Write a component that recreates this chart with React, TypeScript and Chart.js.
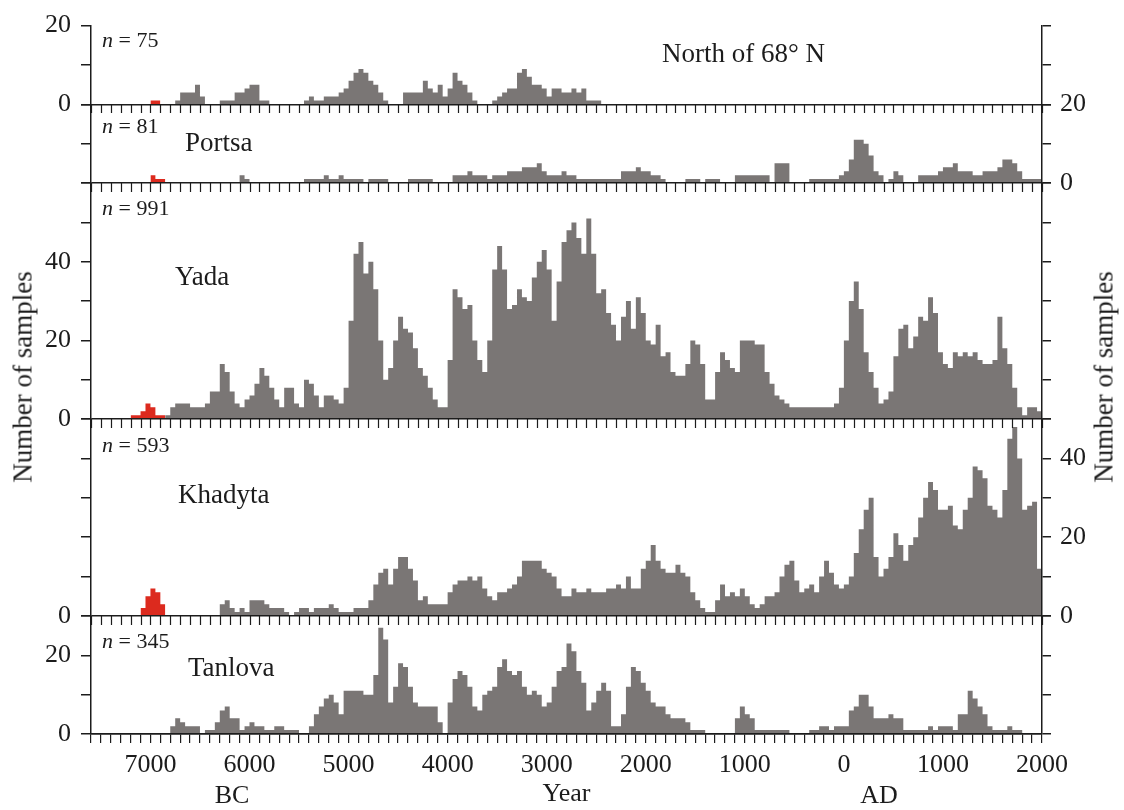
import React, { useEffect, useRef } from "react";
import { Chart, registerables } from "chart.js";

Chart.register(...registerables);

// ---------------- data ----------------
const YEAR_MIN = -7600; // 7600 BC
const YEAR_MAX = 2000; // AD 2000
const BIN_START = -7600; // first 50-year bin
const BIN_WIDTH = 50;
const X_TICK_STEP = 100;
const X_LABEL_STEP = 1000;

const panelNames = ["North of 68\u00B0 N", "Portsa", "Yada", "Khadyta", "Tanlova"];
const panelCounts = [75, 81, 991, 593, 345];
const panelMax = [20, 20, 60, 50, 30];
const leftTickLabels = [[0, 20], [], [0, 20, 40], [0], [0, 20]];
const rightTickLabels = [[], [0, 20], [], [0, 20, 40], []];

// counts per 50-year bin, from 7600 BC to AD 2000 (20 bins per line = 1000 years)
const northCounts = [
  0, 0, 0, 0, 0, 0, 0, 0, 0, 0, 0, 0, 0, 0, 0, 0, 0, 1, 3, 3,
  3, 5, 2, 0, 0, 0, 1, 1, 1, 3, 3, 4, 5, 5, 1, 1, 0, 0, 0, 0,
  0, 0, 0, 1, 2, 1, 1, 2, 2, 2, 3, 4, 6, 8, 9, 8, 6, 5, 3, 1,
  0, 0, 0, 3, 3, 3, 3, 6, 4, 3, 5, 2, 4, 8, 6, 5, 3, 1, 0, 0,
  0, 1, 2, 3, 4, 4, 8, 9, 7, 5, 5, 4, 2, 4, 4, 3, 3, 4, 3, 4,
  1, 1, 1, 0, 0, 0, 0, 0, 0, 0, 0, 0, 0, 0, 0, 0, 0, 0, 0, 0,
  0, 0, 0, 0, 0, 0, 0, 0, 0, 0, 0, 0, 0, 0, 0, 0, 0, 0, 0, 0,
  0, 0, 0, 0, 0, 0, 0, 0, 0, 0, 0, 0, 0, 0, 0, 0, 0, 0, 0, 0,
  0, 0, 0, 0, 0, 0, 0, 0, 0, 0, 0, 0, 0, 0, 0, 0, 0, 0, 0, 0,
  0, 0, 0, 0, 0, 0, 0, 0, 0, 0, 0, 0,
];
const portsaCounts = [
  0, 0, 0, 0, 0, 0, 0, 0, 0, 0, 0, 0, 0, 0, 0, 0, 0, 0, 0, 0,
  0, 0, 0, 0, 0, 0, 0, 0, 0, 0, 2, 1, 0, 0, 0, 0, 0, 0, 0, 0,
  0, 0, 0, 1, 1, 1, 1, 2, 1, 1, 2, 1, 1, 1, 1, 0, 1, 1, 1, 1,
  0, 0, 0, 0, 1, 1, 1, 1, 1, 0, 0, 0, 0, 2, 2, 2, 3, 2, 2, 2,
  1, 2, 2, 2, 3, 3, 3, 4, 4, 4, 5, 3, 2, 2, 2, 3, 2, 2, 1, 1,
  1, 1, 1, 1, 1, 1, 1, 3, 3, 3, 4, 3, 3, 2, 2, 1, 0, 0, 0, 0,
  1, 1, 1, 0, 1, 1, 1, 0, 0, 0, 2, 2, 2, 2, 2, 2, 2, 0, 5, 5,
  5, 0, 0, 0, 0, 1, 1, 1, 1, 1, 1, 2, 3, 6, 11, 11, 10, 7, 3, 2,
  0, 1, 3, 2, 0, 0, 0, 2, 2, 2, 2, 3, 4, 4, 5, 3, 3, 3, 2, 2,
  3, 3, 3, 4, 6, 6, 5, 3, 1, 1, 1, 1,
];
const yadaCounts = [
  0, 0, 0, 0, 0, 0, 0, 0, 0, 0, 0, 0, 0, 0, 0, 1, 3, 4, 4, 4,
  3, 3, 3, 4, 7, 7, 14, 12, 7, 4, 3, 5, 6, 9, 13, 11, 8, 5, 3, 8,
  8, 4, 3, 10, 9, 6, 3, 6, 6, 5, 4, 8, 25, 42, 45, 37, 40, 33, 20, 10,
  13, 20, 26, 23, 22, 18, 13, 11, 8, 5, 3, 3, 15, 33, 31, 28, 29, 20, 15, 12,
  20, 38, 44, 38, 28, 29, 33, 31, 30, 36, 40, 43, 38, 25, 35, 45, 48, 50, 46, 42,
  51, 42, 32, 33, 27, 24, 20, 26, 30, 23, 31, 27, 20, 19, 24, 16, 17, 12, 11, 11,
  14, 20, 19, 14, 5, 5, 12, 17, 15, 13, 12, 20, 20, 20, 19, 19, 12, 9, 6, 5,
  4, 3, 3, 3, 3, 3, 3, 3, 3, 3, 4, 8, 20, 30, 35, 28, 17, 12, 8, 4,
  5, 7, 16, 23, 24, 18, 21, 26, 25, 31, 27, 17, 14, 13, 17, 16, 17, 16, 17, 15,
  14, 14, 15, 26, 18, 14, 8, 3, 1, 3, 3, 2,
];
const khadytaCounts = [
  0, 0, 0, 0, 0, 0, 0, 0, 0, 0, 0, 0, 0, 0, 0, 0, 0, 0, 0, 0,
  0, 0, 0, 0, 0, 0, 3, 4, 2, 1, 2, 1, 4, 4, 4, 3, 2, 2, 2, 1,
  0, 1, 2, 2, 1, 2, 2, 2, 3, 2, 1, 1, 1, 2, 2, 2, 4, 8, 11, 12,
  8, 12, 15, 15, 12, 9, 4, 5, 3, 3, 3, 3, 6, 8, 9, 9, 10, 9, 10, 7,
  5, 4, 6, 6, 7, 8, 10, 14, 14, 14, 14, 12, 11, 10, 7, 5, 5, 7, 6, 6,
  7, 6, 6, 6, 7, 7, 8, 7, 10, 7, 7, 12, 14, 18, 14, 12, 11, 11, 13, 11,
  10, 6, 4, 2, 1, 1, 4, 8, 5, 6, 5, 7, 5, 3, 2, 3, 5, 5, 6, 10,
  13, 14, 9, 6, 7, 8, 6, 10, 14, 11, 8, 7, 8, 10, 16, 22, 27, 30, 15, 10,
  12, 15, 21, 18, 14, 18, 20, 25, 30, 34, 32, 27, 27, 28, 23, 22, 27, 30, 38, 37,
  35, 28, 27, 25, 32, 45, 48, 40, 27, 28, 29, 12,
];
const tanlovaCounts = [
  0, 0, 0, 0, 0, 0, 0, 0, 0, 0, 0, 0, 0, 0, 0, 0, 2, 4, 3, 2,
  2, 2, 0, 1, 1, 3, 6, 7, 4, 4, 1, 2, 3, 2, 2, 1, 1, 2, 2, 1,
  1, 1, 0, 0, 2, 5, 7, 9, 10, 8, 5, 11, 11, 11, 11, 10, 10, 15, 27, 24,
  8, 12, 18, 17, 12, 8, 7, 7, 7, 7, 3, 0, 8, 14, 16, 15, 12, 7, 6, 10,
  11, 12, 17, 19, 16, 15, 16, 12, 10, 11, 10, 7, 8, 12, 16, 17, 23, 21, 16, 13,
  6, 8, 11, 13, 11, 2, 2, 5, 12, 17, 16, 13, 11, 8, 7, 7, 5, 4, 4, 4,
  3, 1, 1, 1, 0, 0, 0, 0, 0, 0, 4, 7, 5, 4, 1, 1, 1, 1, 1, 1,
  1, 0, 0, 0, 0, 1, 1, 2, 2, 1, 2, 2, 2, 6, 7, 10, 10, 7, 4, 4,
  4, 5, 4, 4, 1, 1, 1, 1, 1, 2, 1, 2, 2, 2, 1, 5, 5, 11, 9, 7,
  5, 2, 1, 1, 1, 2, 1, 1, 0, 0, 0, 0,
];

// early (red) dates, 50-year bins
const northEarlyStart = -7000;
const northEarly = [1, 1];
const portsaEarlyStart = -7000;
const portsaEarly = [2, 1, 1];
const yadaEarlyStart = -7200;
const yadaEarly = [1, 1, 2, 4, 3, 1, 1];
const khadytaEarlyStart = -7100;
const khadytaEarly = [2, 5, 7, 6, 3];

const panelSeries = [northCounts, portsaCounts, yadaCounts, khadytaCounts, tanlovaCounts];
const earlySeries = [
  { start: northEarlyStart, values: northEarly },
  { start: portsaEarlyStart, values: portsaEarly },
  { start: yadaEarlyStart, values: yadaEarly },
  { start: khadytaEarlyStart, values: khadytaEarly },
  null,
];

// ---------------- style / layout ----------------
const W = 1124;
const H = 810;
const SERIF = "'Liberation Serif', 'Times New Roman', Times, serif";
const GRAY = "#7a7675";
const RED = "#dc2a1e";
const INK = "#1c1c1c";
const PAD_TOP = 21;
const LEFT_AXIS_W = 91;
const RIGHT_AXIS_W = 82;
const X_AXIS_H = 76;

const nameLeft = [662, 185, 175, 178, 188];
const nameMid = [53, 142, 276, 494, 667];
const countLeft = 102;
const countMid = [40, 126, 208, 445, 641];

function stepPoints(start: number, values: number[]) {
  const pts = values.map((v, i) => ({ x: start + i * BIN_WIDTH, y: v }));
  pts.push({ x: start + values.length * BIN_WIDTH, y: 0 });
  return pts;
}

const baselineTicks = {
  id: "baselineTicks",
  afterDraw(chart: any) {
    const xs = chart.scales.x;
    const ctx = chart.ctx;
    ctx.save();
    ctx.strokeStyle = INK;
    ctx.lineWidth = 1.2;
    ctx.beginPath();
    for (let i = 0; i < panelNames.length - 1; i++) {
      const ys = chart.scales["L" + i];
      const yb = Math.round(ys.getPixelForValue(0));
      for (const t of xs.ticks) {
        const px = Math.round(xs.getPixelForValue(t.value)) + 0.5;
        ctx.moveTo(px, yb);
        ctx.lineTo(px, yb + 9);
      }
    }
    ctx.stroke();
    ctx.restore();
  },
};

function buildScales() {
  const tickFont = { family: SERIF, size: 26 };
  const scales: any = {
    x: {
      type: "linear",
      position: "bottom",
      min: YEAR_MIN,
      max: YEAR_MAX,
      border: { display: true, color: INK, width: 1.5, z: 1 },
      grid: {
        display: true,
        drawOnChartArea: false,
        drawTicks: true,
        tickLength: 9,
        tickColor: INK,
        lineWidth: 1.2,
        z: 1,
      },
      ticks: {
        stepSize: X_TICK_STEP,
        autoSkip: false,
        maxRotation: 0,
        minRotation: 0,
        padding: 7,
        color: INK,
        font: tickFont,
        callback: (v: number) => (v % X_LABEL_STEP === 0 ? String(Math.abs(v)) : ""),
      },
      title: { display: true, text: "Year", color: INK, font: tickFont, padding: 0 },
      afterFit: (s: any) => {
        s.height = X_AXIS_H;
      },
    },
  };
  panelNames.forEach((_, i) => {
    const n = panelNames.length;
    const common = {
      type: "linear",
      min: 0,
      max: panelMax[i],
      stackWeight: panelMax[i],
      border: { display: true, color: INK, width: 1.5, z: 1 },
    };
    scales["L" + i] = {
      ...common,
      position: "left",
      stack: "leftStack",
      weight: n - i,
      grid: {
        display: true,
        drawOnChartArea: true,
        drawTicks: true,
        tickLength: 10,
        tickColor: INK,
        lineWidth: 1.5,
        color: (c: any) => (c.tick && c.tick.value === 0 ? INK : "rgba(0,0,0,0)"),
        z: 1,
      },
      ticks: {
        stepSize: 10,
        autoSkip: false,
        padding: 10,
        color: INK,
        font: tickFont,
        callback: (v: number) => (leftTickLabels[i].includes(v) ? String(v) : ""),
      },
      afterFit: (s: any) => {
        s.width = LEFT_AXIS_W;
      },
    };
    scales["R" + i] = {
      ...common,
      position: "right",
      stack: "rightStack",
      weight: i + 1,
      grid: {
        display: true,
        drawOnChartArea: false,
        drawTicks: true,
        tickLength: 9,
        tickColor: INK,
        lineWidth: 1.5,
        z: 1,
      },
      ticks: {
        stepSize: 10,
        autoSkip: false,
        padding: 9,
        color: INK,
        font: tickFont,
        callback: (v: number) => (rightTickLabels[i].includes(v) ? String(v) : ""),
      },
      afterFit: (s: any) => {
        s.width = RIGHT_AXIS_W;
      },
    };
  });
  return scales;
}

function buildDatasets() {
  const ds: any[] = [];
  panelSeries.forEach((values, i) => {
    ds.push({
      label: panelNames[i],
      data: stepPoints(BIN_START, values),
      yAxisID: "L" + i,
      xAxisID: "x",
      stepped: true,
      fill: "origin",
      backgroundColor: GRAY,
      borderColor: "rgba(0,0,0,0)",
      borderWidth: 0,
      pointRadius: 0,
      tension: 0,
    });
    const early = earlySeries[i];
    if (early) {
      ds.push({
        label: panelNames[i] + " early",
        data: stepPoints(early.start, early.values),
        yAxisID: "L" + i,
        xAxisID: "x",
        stepped: true,
        fill: "origin",
        backgroundColor: RED,
        borderColor: "rgba(0,0,0,0)",
        borderWidth: 0,
        pointRadius: 0,
        tension: 0,
      });
    }
  });
  return ds;
}

export default function App() {
  const canvasRef = useRef<HTMLCanvasElement | null>(null);

  useEffect(() => {
    const canvas = canvasRef.current;
    if (!canvas) return;
    Chart.defaults.font.family = SERIF;
    const chart = new Chart(canvas, {
      type: "line",
      data: { datasets: buildDatasets() },
      options: {
        responsive: false,
        maintainAspectRatio: false,
        animation: false,
        devicePixelRatio: 1,
        layout: { padding: { top: PAD_TOP, left: 0, right: 0, bottom: 0 } },
        plugins: { legend: { display: false }, tooltip: { enabled: false } },
        scales: buildScales(),
      },
      plugins: [baselineTicks],
    } as any);
    return () => chart.destroy();
  }, []);

  const textBase: any = {
    position: "absolute",
    fontFamily: SERIF,
    color: INK,
    whiteSpace: "nowrap",
    lineHeight: 1,
  };

  return (
    <div
      style={{
        position: "absolute",
        left: 0,
        top: 0,
        width: W,
        height: H,
        background: "#fff",
        overflow: "hidden",
      }}
    >
      <canvas
        ref={canvasRef}
        width={W}
        height={H}
        style={{ position: "absolute", left: 0, top: 0, width: W, height: H }}
      />
      {panelNames.map((name, i) => (
        <div
          key={"name" + i}
          style={{ ...textBase, left: nameLeft[i], top: nameMid[i], fontSize: 27, transform: "translateY(-50%)" }}
        >
          {name}
        </div>
      ))}
      {panelCounts.map((n, i) => (
        <div
          key={"n" + i}
          style={{ ...textBase, left: countLeft, top: countMid[i], fontSize: 22, transform: "translateY(-50%)" }}
        >
          <i>n</i> = {n}
        </div>
      ))}
      <div
        style={{ ...textBase, left: 22.5, top: 377, fontSize: 27, transform: "translate(-50%, -50%) rotate(-90deg)" }}
      >
        Number of samples
      </div>
      <div
        style={{ ...textBase, left: 1104, top: 377, fontSize: 27, transform: "translate(-50%, -50%) rotate(-90deg)" }}
      >
        Number of samples
      </div>
      <div style={{ ...textBase, left: 232, top: 795, fontSize: 26, transform: "translate(-50%, -50%)" }}>BC</div>
      <div style={{ ...textBase, left: 879, top: 795, fontSize: 26, transform: "translate(-50%, -50%)" }}>AD</div>
    </div>
  );
}
